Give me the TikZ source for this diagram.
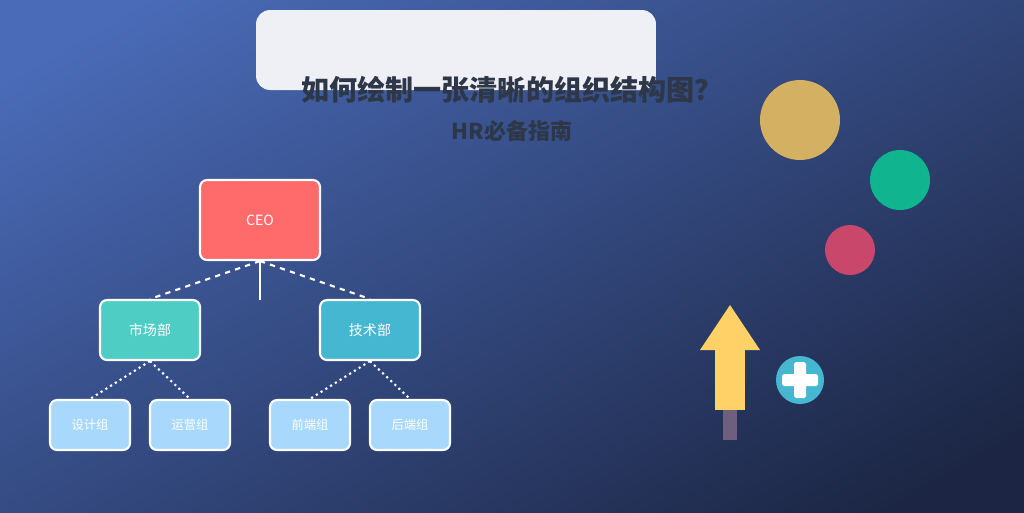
\documentclass[tikz,border=0pt]{standalone}
\usepackage{fontspec}
\setmainfont{Noto Sans CJK SC}
\usetikzlibrary{positioning,shapes.geometric}
\definecolor{bgtop}{HTML}{4A6BB8}
\definecolor{bgbot}{HTML}{1C2644}
\definecolor{titlebg}{HTML}{EEF0F6}
\definecolor{titletext}{HTML}{2D3748}
\definecolor{ceored}{HTML}{FF6B6B}
\definecolor{mktgreen}{HTML}{4ECDC4}
\definecolor{techblue}{HTML}{45B7D1}
\definecolor{leafblue}{HTML}{A8D8FB}
\definecolor{goldc}{HTML}{D4B062}
\definecolor{tealc}{HTML}{10B48F}
\definecolor{rosec}{HTML}{C8476A}
\definecolor{arrowy}{HTML}{FFD166}
\definecolor{stemc}{HTML}{6E5F7E}
\begin{document}
\begin{tikzpicture}[x=0.02cm, y=-0.02cm,
    orgbox/.style={rectangle, draw=white, line width=1.2pt, rounded corners=4pt, text=white, align=center},
    leafbox/.style={orgbox, fill=leafblue, minimum width=1.6cm, minimum height=1cm, font=\fontsize{7}{8}\selectfont},
    deptbox/.style={orgbox, minimum width=2cm, minimum height=1.2cm, font=\fontsize{8}{9}\selectfont},
    link/.style={white, line width=1.2pt}
]
    % background
    \useasboundingbox (0,0) rectangle (1024,512);
    \begin{scope}
    \clip (0,0) rectangle (1024,512);
    \shade[shading=axis, top color=bgtop, bottom color=bgbot, shading angle=30] (-60,-60) rectangle (1084,572);
    \end{scope}

    % title card
    \node[rectangle, fill=titlebg, rounded corners=8pt, minimum width=8cm, minimum height=1.6cm] (card) at (456,50) {};
    \node[text=titletext, font=\bfseries\fontsize{16}{18}\selectfont] (title) at (512,90) {如何绘制一张清晰的组织结构图？};
    \node[text=titletext, font=\bfseries\fontsize{12.5}{14}\selectfont] (subtitle) at (512,131) {HR必备指南};

    % org chart
    \node[deptbox, fill=ceored, minimum width=2.4cm, minimum height=1.6cm] (ceo) at (260,220) {CEO};
    \node[deptbox, fill=mktgreen] (mkt) at (150,330) {市场部};
    \node[deptbox, fill=techblue] (tech) at (370,330) {技术部};
    \node[leafbox] (design) at (90,425) {设计组};
    \node[leafbox] (ops) at (190,425) {运营组};
    \node[leafbox] (front) at (310,425) {前端组};
    \node[leafbox] (back) at (410,425) {后端组};
    \coordinate (stub) at (260,300);

    \draw[link, dashed] (ceo.south) -- (mkt.north);
    \draw[link, dashed] (ceo.south) -- (tech.north);
    \draw[link] (ceo.south) -- (stub);
    \draw[link, dotted] (mkt.south) -- (design.north);
    \draw[link, dotted] (mkt.south) -- (ops.north);
    \draw[link, dotted] (tech.south) -- (front.north);
    \draw[link, dotted] (tech.south) -- (back.north);

    % decorations
    \node[circle, fill=goldc, minimum size=1.6cm] (gold) at (800,120) {};
    \node[circle, fill=tealc, minimum size=1.2cm] (teal) at (900,180) {};
    \node[circle, fill=rosec, minimum size=1cm] (rose) at (850,250) {};
    \fill[stemc] (723,410) rectangle (737,440);
    \fill[arrowy] (715,350) rectangle (745,410);
    \fill[arrowy] (700,350) -- (730,305) -- (760,350) -- cycle;
    \node[circle, fill=techblue, minimum size=0.96cm] (plus) at (800,380) {};
    \fill[white, rounded corners=1pt] (794,362) rectangle (806,398);
    \fill[white, rounded corners=1pt] (782,374) rectangle (818,386);
\end{tikzpicture}
\end{document}
